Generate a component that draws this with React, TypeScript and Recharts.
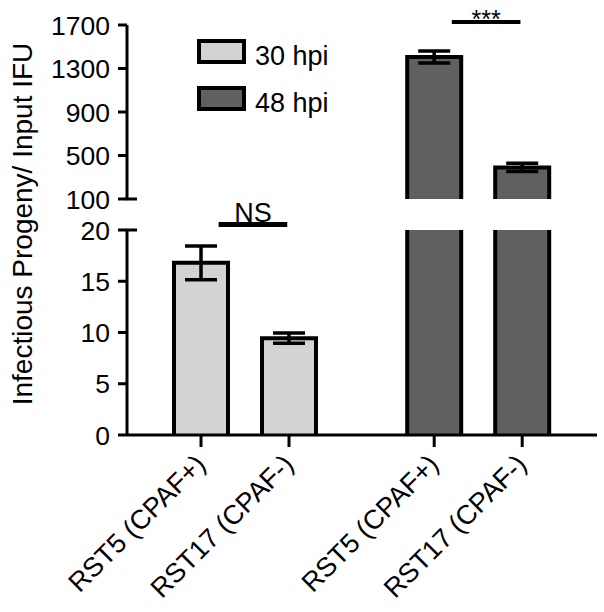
import React from 'react';
import { BarChart, Bar, XAxis, YAxis, ErrorBar, ReferenceLine } from 'recharts';

// ---- data ----
const strains = ['RST5 (CPAF+)', 'RST17 (CPAF-)'];
const timepoints = ['30 hpi', '48 hpi'];
const mean30 = [16.8, 9.45];
const sem30 = [1.65, 0.5];
const mean48 = [1405, 390];
const sem48 = [55, 38];
const upperTicks = [100, 500, 900, 1300, 1700];
const lowerTicks = [0, 5, 10, 15, 20];
const significance = ['NS', '***'];
const yLabel = 'Infectious Progeny/ Input IFU';

// ---- layout / style ----
const FONT = '"Liberation Sans", Arial, Helvetica, sans-serif';
const colors = ['#d3d3d3', '#606060'];
const GROUP_STEP = 2.65;
const X_DOMAIN: [number, number] = [0.159, 5.5];
const LOWER_MAX = 20;
const UPPER_MIN = 100;
const UPPER_MAX = 1700;
const TICK_SIZE = 9;
const TICK_MARGIN = 8;

type Row = { x: number; label: string; group: number; value: number | null; err?: number };
const rows: Row[] = [];
[[mean30, sem30], [mean48, sem48]].forEach(([m, s], g) => {
  strains.forEach((name, i) => {
    rows.push({ x: 1 + g * GROUP_STEP + i, label: name, group: g, value: m[i], err: s[i] });
  });
});

const lowerData = rows.map((r) => ({
  ...r,
  err: (r.value as number) <= LOWER_MAX ? r.err : undefined,
}));
const upperData = rows.map((r) => ({
  ...r,
  value: (r.value as number) >= UPPER_MIN ? r.value : null,
  err: (r.value as number) >= UPPER_MIN ? r.err : undefined,
}));
const xTicks = rows.map((r) => r.x);

const OpenBar = (props: any) => {
  const { x, y, width, height } = props;
  if (height == null || !isFinite(y) || !isFinite(height) || width == null) return null;
  const group = props.payload?.group ?? props.group;
  const top = Math.min(y, y + height);
  const bottom = Math.max(y, y + height);
  return (
    <g>
      <rect x={x} y={top} width={width} height={bottom - top} fill={colors[group]} />
      <path
        d={`M${x},${bottom} L${x},${top} L${x + width},${top} L${x + width},${bottom}`}
        fill="none"
        stroke="#000"
        strokeWidth={4}
      />
    </g>
  );
};

const makeYTick = (breakValue: number) => (props: any) => {
  const { x, y, payload } = props;
  const axisX = x + TICK_SIZE + TICK_MARGIN;
  return (
    <g>
      <text x={x} y={y} dy="0.36em" textAnchor="end" fontSize={26.5} fontFamily={FONT} fill="#000">
        {payload.value}
      </text>
      {payload.value === breakValue && (
        <line x1={axisX - 1} x2={axisX + 10} y1={y} y2={y} stroke="#000" strokeWidth={3} />
      )}
    </g>
  );
};

const XTick = (props: any) => {
  const { x, y, payload } = props;
  const row = rows.find((r) => r.x === payload.value);
  const ax = x + 6;
  const ay = y + 17;
  return (
    <text
      x={ax}
      y={ay}
      transform={`rotate(-45 ${ax} ${ay})`}
      textAnchor="end"
      fontSize={27}
      fontFamily={FONT}
      fill="#000"
    >
      {row ? row.label : ''}
    </text>
  );
};

const sigLabel = (text: string, size: number, lift: number) => (p: any) => {
  const vb = p.viewBox || {};
  const cx = (vb.x ?? 0) + (vb.width ?? 0) / 2;
  return (
    <text x={cx} y={(vb.y ?? 0) - lift} textAnchor="middle" fontSize={size} fontFamily={FONT} fill="#000">
      {text}
    </text>
  );
};

const axisStroke = { stroke: '#000', strokeWidth: 3 };

export default function App() {
  const sigSeg = (g: number) => [1 + g * GROUP_STEP + 0.2, 1 + g * GROUP_STEP + 0.98];
  const [ns0, ns1] = sigSeg(0);
  const [s0, s1] = sigSeg(1);
  return (
    <div style={{ position: 'absolute', left: 0, top: 0, width: 604, height: 612, background: '#fff' }}>
      {/* lower segment 0-20 */}
      <div style={{ position: 'absolute', left: 0, top: 0 }}>
        <BarChart width={604} height={612} data={lowerData} margin={{ top: 230, right: 7, bottom: 0, left: 0 }}>
          <XAxis
            type="number"
            dataKey="x"
            domain={X_DOMAIN}
            ticks={xTicks}
            interval={0}
            height={177}
            tickSize={12}
            axisLine={axisStroke}
            tickLine={axisStroke}
            tick={XTick}
          />
          <YAxis
            type="number"
            domain={[0, LOWER_MAX]}
            ticks={lowerTicks}
            interval={0}
            allowDataOverflow
            width={127}
            tickSize={TICK_SIZE}
            tickMargin={TICK_MARGIN}
            axisLine={axisStroke}
            tickLine={axisStroke}
            tick={makeYTick(LOWER_MAX)}
          />
          <Bar dataKey="value" barSize={54} isAnimationActive={false} shape={OpenBar}>
            <ErrorBar dataKey="err" width={16} strokeWidth={3.5} stroke="#000" direction="y" isAnimationActive={false} />
          </Bar>
          <ReferenceLine
            segment={[{ x: ns0, y: 20.54 }, { x: ns1, y: 20.54 }]}
            ifOverflow="visible"
            stroke="#000"
            strokeWidth={5}
            label={sigLabel(significance[0], 27, 2.5)}
          />
        </BarChart>
      </div>
      {/* upper segment 100-1700 */}
      <div style={{ position: 'absolute', left: 0, top: 0 }}>
        <BarChart width={604} height={225} data={upperData} margin={{ top: 25, right: 7, bottom: 26, left: 0 }}>
          <XAxis type="number" dataKey="x" domain={X_DOMAIN} hide />
          <YAxis
            type="number"
            domain={[UPPER_MIN, UPPER_MAX]}
            ticks={upperTicks}
            interval={0}
            allowDataOverflow
            width={127}
            tickSize={TICK_SIZE}
            tickMargin={TICK_MARGIN}
            axisLine={axisStroke}
            tickLine={axisStroke}
            tick={makeYTick(UPPER_MIN)}
          />
          <Bar dataKey="value" barSize={54} isAnimationActive={false} shape={OpenBar}>
            <ErrorBar dataKey="err" width={16} strokeWidth={3.5} stroke="#000" direction="y" isAnimationActive={false} />
          </Bar>
          <ReferenceLine
            segment={[{ x: s0, y: 1727 }, { x: s1, y: 1727 }]}
            ifOverflow="visible"
            stroke="#000"
            strokeWidth={4}
            label={sigLabel(significance[1], 25, -6)}
          />
        </BarChart>
      </div>
      {/* y-axis title and legend */}
      <svg width={604} height={612} style={{ position: 'absolute', left: 0, top: 0, pointerEvents: 'none' }}>
        <text
          x={32}
          y={224}
          transform="rotate(-90 32 224)"
          textAnchor="middle"
          fontSize={28}
          fontFamily={FONT}
          fill="#000"
        >
          {yLabel}
        </text>
        {timepoints.map((t, i) => (
          <g key={t}>
            <rect x={199} y={41 + i * 47} width={45} height={21} fill={colors[i]} stroke="#000" strokeWidth={4} />
            <text x={255} y={65 + i * 47} fontSize={27} fontFamily={FONT} fill="#000">
              {t}
            </text>
          </g>
        ))}
      </svg>
    </div>
  );
}
